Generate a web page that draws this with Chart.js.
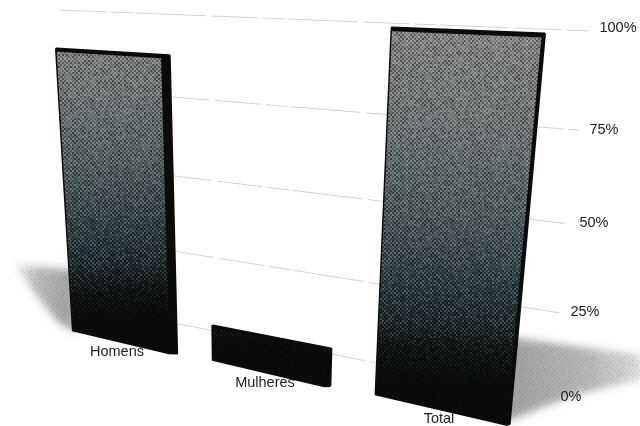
<!DOCTYPE html>
<html>
<head>
<meta charset="utf-8">
<script src="https://cdn.jsdelivr.net/npm/chart.js@4"></script>
<style>
html, body { margin: 0; padding: 0; background: #fff; }
canvas { display: block; filter: blur(0.6px); }
</style>
</head>
<body>
<canvas id="myChart" width="640" height="426"></canvas>
<script>
const categories = ['Homens', 'Mulheres', 'Total'];
const values = [88, 10, 98];
const tickValues = [0, 25, 50, 75, 100];

// where the plot corners land on the tilted picture: bars stand in front of the back wall
const barCorners = { tl: [33, 9], tr: [577, 30], br: [537, 428], bl: [54, 326] };
const wallCorners = { tl: [60, 10], tr: [590, 31], br: [550, 397], bl: [72, 303] };
const tickLabelPos = { 100: [618, 28], 75: [604, 130], 50: [594, 223], 25: [585, 312], 0: [571, 397] };
const catLabelPos = { Homens: [117, 352], Mulheres: [265, 383], Total: [439, 419] };

function makeProjection(c) {
    const [x0, y0] = c.tl, [x1, y1] = c.tr, [x2, y2] = c.br, [x3, y3] = c.bl;
    const dx1 = x1 - x2, dx2 = x3 - x2, sx = x0 - x1 + x2 - x3;
    const dy1 = y1 - y2, dy2 = y3 - y2, sy = y0 - y1 + y2 - y3;
    const den = dx1 * dy2 - dx2 * dy1;
    const g = (sx * dy2 - dx2 * sy) / den;
    const h = (dx1 * sy - sx * dy1) / den;
    const a = x1 - x0 + g * x1, b = x3 - x0 + h * x3;
    const d = y1 - y0 + g * y1, e = y3 - y0 + h * y3;
    return (s, t) => {
        const w = g * s + h * t + 1;
        return [(a * s + b * t + x0) / w, (d * s + e * t + y0) / w];
    };
}
const project = makeProjection(barCorners);
const projectWall = makeProjection(wallCorners);

function toPlane(chart, px, py) {
    const area = chart.chartArea;
    return [(px - area.left) / area.width, (py - area.top) / area.height];
}

function path(ctx, pts) {
    ctx.beginPath();
    pts.forEach((p, i) => i ? ctx.lineTo(p[0], p[1]) : ctx.moveTo(p[0], p[1]));
    ctx.closePath();
}

// scanned halftone look
function makeGrain() {
    const c = document.createElement('canvas');
    c.width = c.height = 120;
    const g = c.getContext('2d');
    for (let i = 0; i < 60; i++) {
        for (let j = 0; j < 60; j++) {
            const n = Math.sin(i * 12.9898 + j * 78.233) * 43758.5453;
            const f = n - Math.floor(n);
            const dot = (i + j) % 2 === 0;
            const a = dot ? f * 0.42 : f * 0.2;
            g.fillStyle = (dot ? 'rgba(0,0,0,' : 'rgba(255,255,255,') + a + ')';
            g.fillRect(i * 2, j * 2, 2, 2);
        }
    }
    return c;
}
const grain = makeGrain();

function drawShadow(ctx, pts, x0, y0, x1, y1) {
    ctx.save();
    ctx.filter = 'blur(4px)';
    const grad = ctx.createLinearGradient(x0, y0, x1, y1);
    grad.addColorStop(0, '#a2a2a2');
    grad.addColorStop(0.6, '#b7b7b7');
    grad.addColorStop(1, '#dcdcdc');
    path(ctx, pts);
    ctx.fillStyle = grad;
    ctx.fill();
    ctx.filter = 'none';
    path(ctx, pts);
    ctx.clip();
    ctx.globalAlpha = 0.16;
    ctx.fillStyle = ctx.createPattern(grain, 'repeat');
    ctx.fillRect(0, 0, 640, 426);
    ctx.restore();
}

const tiltPlugin = {
    id: 'tilt',
    beforeDatasetsDraw(chart) {
        const ctx = chart.ctx, y = chart.scales.y;
        ctx.save();
        ctx.strokeStyle = '#d2d2d2';
        ctx.lineWidth = 1;
        ctx.setLineDash([46, 5, 22, 3, 70, 6]);
        tickValues.forEach(v => {
            const t = toPlane(chart, 0, y.getPixelForValue(v))[1];
            const a = projectWall(0, t), b = projectWall(1, t);
            ctx.beginPath();
            ctx.moveTo(a[0], a[1]);
            ctx.lineTo(b[0], b[1]);
            ctx.stroke();
        });
        ctx.restore();
        drawShadow(ctx, [[16, 265], [75, 270], [76, 333], [58, 322], [34, 292]], 72, 290, 18, 280);
        drawShadow(ctx, [[500, 336], [642, 355], [642, 379], [572, 396], [500, 424]], 515, 370, 640, 365);
    },
    beforeDatasetDraw(chart, args) {
        const ctx = chart.ctx, meta = args.meta;
        meta.data.forEach(bar => {
            const [u0] = toPlane(chart, bar.x - bar.width / 2, 0);
            const [u1] = toPlane(chart, bar.x + bar.width / 2, 0);
            const tTop = toPlane(chart, 0, bar.y)[1];
            const tBase = toPlane(chart, 0, bar.base)[1];
            const side = 0.02 * (1 - u1) + 0.003;
            const cap = 0.008;
            const front = [project(u0, tTop), project(u1, tTop), project(u1, tBase), project(u0, tBase)];
            const outer = [project(u0, tTop - cap), project(u1 + side, tTop - cap),
                project(u1 + side, tBase + 0.004), project(u1, tBase + 0.008), project(u0, tBase)];

            ctx.save();
            path(ctx, outer);
            ctx.fillStyle = '#0b0b0b';
            ctx.strokeStyle = '#0b0b0b';
            ctx.lineJoin = 'round';
            ctx.lineWidth = 3;
            ctx.fill();
            ctx.stroke();

            // shade runs along the whole value range, so a short bar stays black
            const low = project((u0 + u1) / 2, 1), high = project((u0 + u1) / 2, 0);
            const grad = ctx.createLinearGradient(low[0], low[1], high[0], high[1]);
            grad.addColorStop(0, '#0a0c0c');
            grad.addColorStop(0.14, '#0e1313');
            grad.addColorStop(0.3, '#233638');
            grad.addColorStop(0.5, '#4b5a5c');
            grad.addColorStop(0.75, '#717778');
            grad.addColorStop(1, '#888888');
            path(ctx, front);
            ctx.fillStyle = grad;
            ctx.fill();
            ctx.clip();
            ctx.fillStyle = ctx.createPattern(grain, 'repeat');
            ctx.fillRect(0, 0, 640, 426);

            // the grain dies out towards the floor
            const fade = ctx.createLinearGradient(low[0], low[1], high[0], high[1]);
            fade.addColorStop(0, 'rgba(8,10,10,0.95)');
            fade.addColorStop(0.08, 'rgba(8,10,10,0.85)');
            fade.addColorStop(0.22, 'rgba(8,10,10,0)');
            ctx.fillStyle = fade;
            ctx.fillRect(0, 0, 640, 426);
            ctx.restore();
        });
        return false;
    },
    afterDraw(chart) {
        const ctx = chart.ctx;
        ctx.save();
        ctx.fillStyle = '#1e1e1e';
        ctx.textAlign = 'center';
        ctx.textBaseline = 'middle';
        ctx.font = '14.5px "Liberation Sans"';
        chart.scales.y.ticks.forEach(t => {
            const pos = tickLabelPos[t.value];
            ctx.fillText(t.label, pos[0], pos[1]);
        });
        chart.data.labels.forEach(name => {
            const pos = catLabelPos[name];
            ctx.fillText(name, pos[0], pos[1]);
        });
        ctx.restore();
    }
};

new Chart(document.getElementById('myChart'), {
    type: 'bar',
    data: {
        labels: categories,
        datasets: [{ data: values, backgroundColor: '#333', barPercentage: 0.7, categoryPercentage: 1 }]
    },
    options: {
        responsive: false,
        animation: false,
        layout: { padding: 0 },
        plugins: { legend: { display: false }, tooltip: { enabled: false } },
        scales: {
            x: { ticks: { display: false }, grid: { display: false }, border: { display: false } },
            y: {
                min: 0, max: 100,
                afterBuildTicks: axis => { axis.ticks = tickValues.map(v => ({ value: v })); },
                ticks: { display: false, callback: v => v + '%' },
                grid: { display: false },
                border: { display: false }
            }
        }
    },
    plugins: [tiltPlugin]
});
</script>
</body>
</html>
